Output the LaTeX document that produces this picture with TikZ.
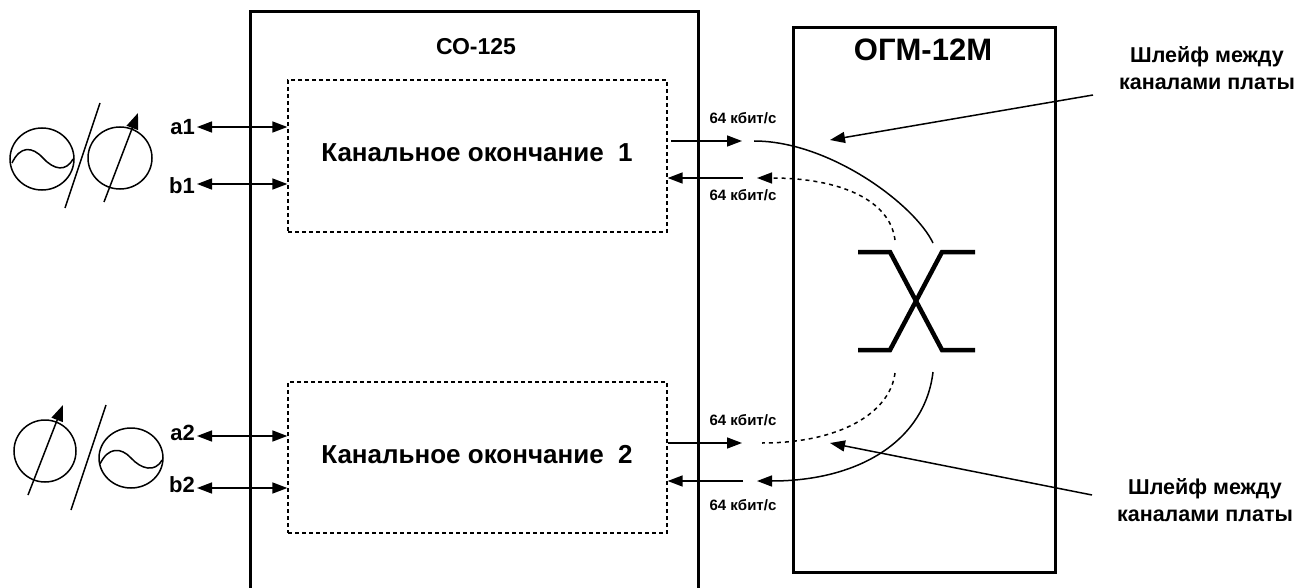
\documentclass[tikz,border=0pt]{standalone}
\usepackage{fontspec}
\setmainfont{Liberation Sans}
\usetikzlibrary{arrows.meta}
\begin{document}
\begin{tikzpicture}[x=1pt,y=-1pt,
  heavy/.style={line width=3pt},
  dotbox/.style={draw, line width=1.3pt, dash pattern=on 4pt off 3pt, inner sep=0pt},
  conn/.style={line width=1.5pt},
  tip/.style={-{Triangle[length=15pt,width=11pt]}},
  dtip/.style={{Triangle[length=15pt,width=11pt]}-{Triangle[length=15pt,width=11pt]}},
  dotc/.style={line width=1.5pt, dash pattern=on 4pt off 4pt},
  rate/.style={font=\bfseries\fontsize{15}{18}\selectfont, inner sep=0pt},
  port/.style={font=\bfseries\fontsize{22}{26}\selectfont, inner sep=0pt, anchor=east},
  maintxt/.style={font=\bfseries\fontsize{26}{31}\selectfont, inner sep=0pt},
  note/.style={font=\bfseries\fontsize{21.5}{27}\selectfont, align=center, inner sep=0pt},
  xsym/.style={line width=4.5pt},
  sym/.style={line width=1.5pt}
]
\useasboundingbox (0,0) rectangle (1306,588);

% CO-125 box (open at bottom)
\draw[heavy] (250,588) -- (250,12) -- (698,12) -- (698,588);
\node[font=\bfseries\fontsize{23}{27}\selectfont, inner sep=0pt] (co) at (476,47) {СО-125};

% channel terminations
\node[dotbox, minimum width=379pt, minimum height=152pt] (ko1) at (477.5,156) {};
\node[maintxt] (k1) at (477,153) {Канальное окончание\ \ 1};
\node[dotbox, minimum width=379pt, minimum height=151pt] (ko2) at (477.5,457.5) {};
\node[maintxt] (k2) at (477,455) {Канальное окончание\ \ 2};

% OGM-12M box
\node[draw, heavy, minimum width=262pt, minimum height=544pt, inner sep=0pt] (ogm) at (924,300) {};
\node[font=\bfseries\fontsize{31}{36}\selectfont, inner sep=0pt] (ogmt) at (923,50) {ОГМ-12М};

% port labels and arrows
\node[port] (a1) at (195,127) {a1};
\node[port] (b1) at (195,186) {b1};
\node[port] (a2) at (195,433) {a2};
\node[port] (b2) at (195,485) {b2};
\draw[conn,dtip] (197,127) -- (ko1.west |- 0,127);
\draw[conn,dtip] (197,184) -- (ko1.west |- 0,184);
\draw[conn,dtip] (197,436) -- (ko2.west |- 0,436);
\draw[conn,dtip] (197,488) -- (ko2.west |- 0,488);

% top symbols
\draw[sym] (42,159) ellipse [x radius=32, y radius=31];
\draw[sym] (12,163) .. controls (20,146) and (32,146) .. (43,158) .. controls (54,170) and (66,172) .. (73,159);
\draw[sym] (65,208) -- (100,103);
\draw[sym] (120,158) ellipse [x radius=32, y radius=31];
\coordinate (ar1s) at (104,202);
\coordinate (ar1e) at (138,113);
\draw[sym,-{Triangle[length=16pt,width=12pt]}] (ar1s) -- (ar1e);

% bottom symbols
\draw[sym] (45,451) ellipse [x radius=31, y radius=31];
\coordinate (ar2s) at (28,495);
\coordinate (ar2e) at (63,405);
\draw[sym,-{Triangle[length=16pt,width=12pt]}] (ar2s) -- (ar2e);
\draw[sym] (71,510) -- (106,405);
\draw[sym] (131,458) ellipse [x radius=32, y radius=30];
\draw[sym] (100,464) .. controls (108,447) and (121,447) .. (131,458) .. controls (141,469) and (155,473) .. (162,460);

% 64 kbit/s arrows, top
\coordinate (u1a) at (671,141);
\coordinate (u1b) at (742,141);
\coordinate (u2a) at (743,178);
\coordinate (u2b) at (ko1.east |- 0,178);
\draw[conn,tip] (u1a) -- (u1b);
\draw[conn,tip] (u2a) -- (u2b);
\node[rate] (r1) at (743,118) {64 кбит/с};
\node[rate] (r2) at (743,195) {64 кбит/с};

% 64 kbit/s arrows, bottom
\coordinate (d1a) at (ko2.east |- 0,443);
\coordinate (d1b) at (742,443);
\coordinate (d2a) at (743,481);
\coordinate (d2b) at (ko2.east |- 0,481);
\draw[conn,tip] (d1a) -- (d1b);
\draw[conn,tip] (d2a) -- (d2b);
\node[rate] (r3) at (743,420) {64 кбит/с};
\node[rate] (r4) at (743,505) {64 кбит/с};

% cross-connect symbol
\draw[xsym] (858,252) -- (890,252) -- (942,350) -- (975,350);
\draw[xsym] (858,350) -- (890,350) -- (942,252) -- (975,252);

% loop curves
\coordinate (c1s) at (754,141);
\coordinate (c1e) at (933,243);
\draw[conn] (c1s) .. controls (830,141) and (915,205) .. (c1e);
\coordinate (c2s) at (895,240);
\coordinate (c2e) at (757,178);
\draw[dotc,tip] (c2s) .. controls (890,200) and (840,178) .. (c2e);
\coordinate (c3s) at (895,373);
\coordinate (c3e) at (762,443);
\draw[dotc] (c3s) .. controls (890,413) and (840,443) .. (c3e);
\coordinate (c4s) at (933,372);
\coordinate (c4e) at (757,481);
\draw[conn,tip] (c4s) .. controls (925,440) and (860,481) .. (c4e);

% callouts
\node[note] (n1) at (1207,68) {Шлейф между\\каналами платы};
\node[note] (n2) at (1205,500) {Шлейф между\\каналами платы};
\coordinate (n1p) at (1093,95);
\coordinate (n1t) at (830,140);
\coordinate (n2p) at (1092,495);
\coordinate (n2t) at (830,443);
\draw[conn,tip] (n1p) -- (n1t);
\draw[conn,tip] (n2p) -- (n2t);
\end{tikzpicture}
\end{document}
